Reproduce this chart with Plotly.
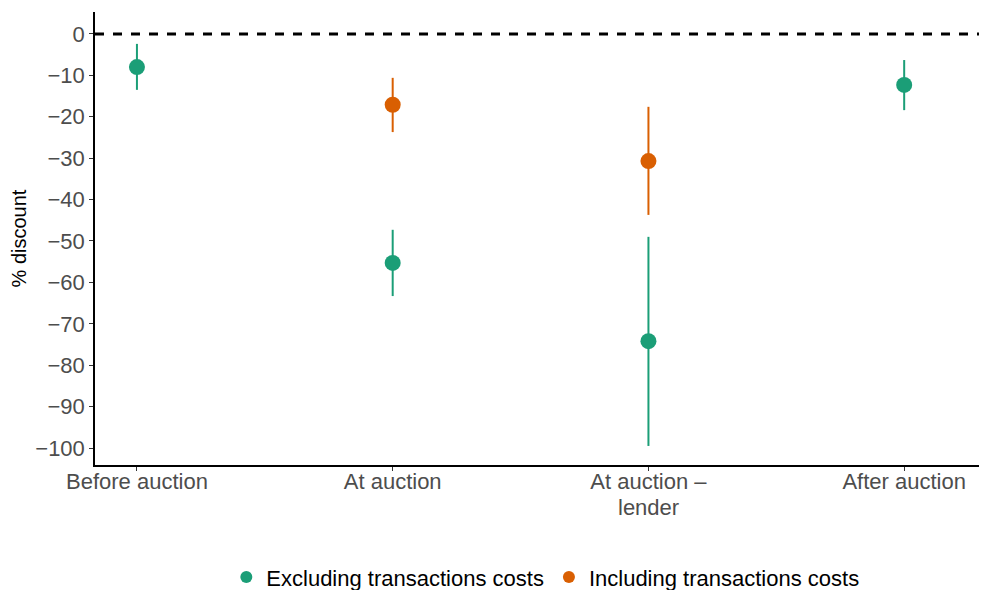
import plotly.graph_objects as go

categories = ["Before auction", "At auction", "At auction –", "After auction"]
second_line = {2: "lender"}

excl_x = [0, 1, 2, 3]
excl_est = [-8.0, -55.3, -74.2, -12.3]
excl_hi = [-2.4, -47.3, -49.0, -6.3]
excl_lo = [-13.5, -63.3, -99.5, -18.4]

incl_x = [1, 2]
incl_est = [-17.1, -30.7]
incl_hi = [-10.6, -17.6]
incl_lo = [-23.7, -43.7]

GREEN = "#1B9E77"
ORANGE = "#D95F02"

fig = go.Figure()

def add_series(xs, est, hi, lo, color, name):
    fig.add_trace(go.Scatter(
        x=xs, y=est, mode="markers", name=name,
        marker=dict(color=color, size=16),
        error_y=dict(type="data", symmetric=False,
                     array=[h - e for h, e in zip(hi, est)],
                     arrayminus=[e - l for e, l in zip(est, lo)],
                     color=color, thickness=2, width=0),
    ))

add_series(excl_x, excl_est, excl_hi, excl_lo, GREEN, "Excluding transactions costs")
add_series(incl_x, incl_est, incl_hi, incl_lo, ORANGE, "Including transactions costs")

fig.add_shape(type="line", xref="paper", x0=0, x1=1, yref="y", y0=0, y1=0,
              line=dict(color="black", width=3, dash="dash"), layer="below")

for xi, txt in second_line.items():
    fig.add_annotation(x=xi, xref="x", y=0, yref="paper", yanchor="middle",
                       yshift=-42, text=txt, showarrow=False, borderpad=0,
                       font=dict(size=22, color="#4d4d4d"))

fig.update_layout(
    width=979, height=582,
    margin=dict(l=87, r=2, t=4, b=125),
    plot_bgcolor="white", paper_bgcolor="white",
    font=dict(family="Liberation Sans, Arial, sans-serif", size=22, color="#4d4d4d"),
    showlegend=True,
    legend=dict(orientation="h", x=0.506, xanchor="center", xref="paper",
                y=0.022, yanchor="middle", yref="container",
                font=dict(size=22, color="black"), itemsizing="constant",
                traceorder="normal", itemwidth=30),
    xaxis=dict(tickmode="array", tickvals=[0, 1, 2, 3], ticktext=categories,
               range=[-0.164, 3.316], showgrid=False, zeroline=False, automargin=False,
               showline=True, linecolor="black", linewidth=1.5,
               ticks="outside", ticklen=4, tickcolor="#333333",
               ticklabelstandoff=-8,
               tickfont=dict(size=22, color="#4d4d4d")),
    yaxis=dict(range=[-104.1, 5.3], tickvals=list(range(-100, 1, 10)),
               ticktext=[("−" + str(-v)) if v < 0 else str(v) for v in range(-100, 1, 10)],
               showgrid=False, zeroline=False, automargin=False,
               showline=True, linecolor="black", linewidth=1.5,
               ticks="outside", ticklen=4, tickcolor="#333333",
               tickfont=dict(size=22, color="#4d4d4d"),
               title=dict(text="% discount", font=dict(size=20, color="black"), standoff=6)),
)

fig.write_html("out.html")
